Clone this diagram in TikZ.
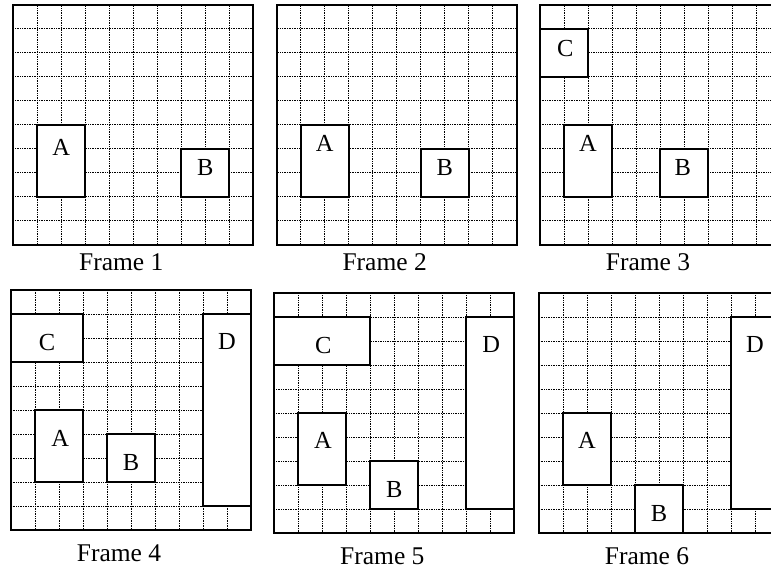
\documentclass[tikz,border=0pt]{standalone}
\usepackage{fontspec}
\setmainfont{Liberation Serif}
\usepackage{tikz}
\newcommand{\boxfont}{\fontsize{24.5bp}{28bp}\selectfont}
\newcommand{\capfont}{\fontsize{25.5bp}{30bp}\selectfont}
\tikzset{
  gridline/.style={dash pattern=on 1bp off 0.7bp, line width=1bp},
  frameedge/.style={line width=2bp},
  objbox/.style={draw, line width=2bp, fill=white},
  objlabel/.style={font=\boxfont, inner sep=0pt},
  caption/.style={font=\capfont, inner sep=0pt}
}
% one 10x10 frame of the grid, in cell units
\newcommand{\gridframe}{%
  \foreach \k in {1,...,9} {
    \draw[gridline] (\k,0) -- (\k,10);
    \draw[gridline] (0,\k) -- (10,\k);
  }
  \draw[frameedge] (0,0) rectangle (10,10);}

\begin{document}
\begin{tikzpicture}[x=24bp,y=-24bp]
\useasboundingbox (0,0) rectangle (771bp,-573bp);
\clip (0,0) rectangle (771bp,-573bp);

% Frame 1
\begin{scope}[shift={(13.3bp,-4.7bp)}]
\gridframe
\draw[objbox] (1,5) rectangle (3,8);
\node[objlabel] (a1) at (2,5.93) {A};
\draw[objbox] (7,6) rectangle (9,8);
\node[objlabel] (b1) at (8,6.8) {B};
\node[caption] (cap1) at (4.5,10.72) {Frame 1};
\end{scope}

% Frame 2
\begin{scope}[shift={(276.7bp,-4.7bp)}]
\gridframe
\draw[objbox] (1,5) rectangle (3,8);
\node[objlabel] (a2) at (2,5.8) {A};
\draw[objbox] (6,6) rectangle (8,8);
\node[objlabel] (b2) at (7,6.8) {B};
\node[caption] (cap2) at (4.5,10.72) {Frame 2};
\end{scope}

% Frame 3
\begin{scope}[shift={(540bp,-4.7bp)}]
\gridframe
\draw[objbox] (0,1) rectangle (2,3);
\node[objlabel] (c3) at (1.05,1.82) {C};
\draw[objbox] (1,5) rectangle (3,8);
\node[objlabel] (a3) at (2,5.8) {A};
\draw[objbox] (5,6) rectangle (7,8);
\node[objlabel] (b3) at (5.95,6.8) {B};
\node[caption] (cap3) at (4.5,10.72) {Frame 3};
\end{scope}

% Frame 4
\begin{scope}[shift={(11bp,-290bp)}]
\gridframe
\draw[objbox] (0,1) rectangle (3,3);
\node[objlabel] (c4) at (1.5,2.19) {C};
\draw[objbox] (8,1) rectangle (10,9);
\node[objlabel] (d4) at (9,2.15) {D};
\draw[objbox] (1,5) rectangle (3,8);
\node[objlabel] (a4) at (2.05,6.2) {A};
\draw[objbox] (4,6) rectangle (6,8);
\node[objlabel] (b4) at (5,7.19) {B};
\node[caption] (cap4) at (4.5,10.97) {Frame 4};
\end{scope}

% Frame 5
\begin{scope}[shift={(274.3bp,-293.3bp)}]
\gridframe
\draw[objbox] (0,1) rectangle (4,3);
\node[objlabel] (c5) at (2.04,2.18) {C};
\draw[objbox] (8,1) rectangle (10,9);
\node[objlabel] (d5) at (9.04,2.15) {D};
\draw[objbox] (1,5) rectangle (3,8);
\node[objlabel] (a5) at (2.03,6.14) {A};
\draw[objbox] (4,7) rectangle (6,9);
\node[objlabel] (b5) at (5,8.19) {B};
\node[caption] (cap5) at (4.5,10.95) {Frame 5};
\end{scope}

% Frame 6
\begin{scope}[shift={(539bp,-293.3bp)}]
\gridframe
\draw[objbox] (8,1) rectangle (10,9);
\node[objlabel] (d6) at (9,2.15) {D};
\draw[objbox] (1,5) rectangle (3,8);
\node[objlabel] (a6) at (2,6.15) {A};
\draw[objbox] (4,8) rectangle (6,10);
\node[objlabel] (b6) at (5,9.17) {B};
\node[caption] (cap6) at (4.5,10.95) {Frame 6};
\end{scope}
\end{tikzpicture}
\end{document}
